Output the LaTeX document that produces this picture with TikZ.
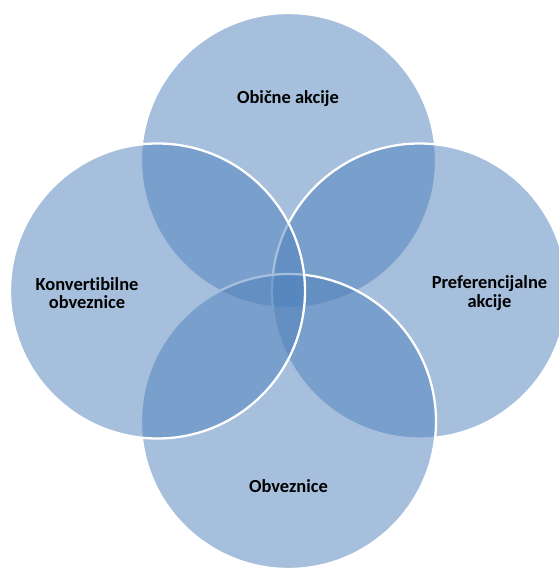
\documentclass[tikz,border=0pt]{standalone}
\usepackage{fontspec}
\setmainfont{Carlito}[Ligatures=NoCommon]
\definecolor{vennblue}{RGB}{77,127,187}
\begin{document}
\begin{tikzpicture}[auto,
    venncircle/.style ={circle, minimum size=5.9cm, inner sep=0pt,
      fill=vennblue, fill opacity=0.5, draw=white, line width=1.3pt},
    label/.style ={align=center, text=black, font=\fontsize{10.5}{10.4}\selectfont\bfseries}]
   \useasboundingbox (0,0) rectangle (11.16,11.4);
   \node[venncircle] (T) at (5.77,8.19)  {};
   \node[venncircle] (R) at (8.39,5.58)  {};
   \node[venncircle] (B) at (5.77,2.97)  {};
   \node[venncircle] (L) at (3.15,5.58)  {};

   \node[label] (TL) at (5.76,9.42)  {Obične akcije};
   \node[label] (RL) at (9.79,5.54)  {Preferencijalne\\akcije};
   \node[label] (BL) at (5.77,1.67)  {Obveznice};
   \node[label] (LL) at (1.74,5.54)  {Konvertibilne\\obveznice};
 \end{tikzpicture}
\end{document}
